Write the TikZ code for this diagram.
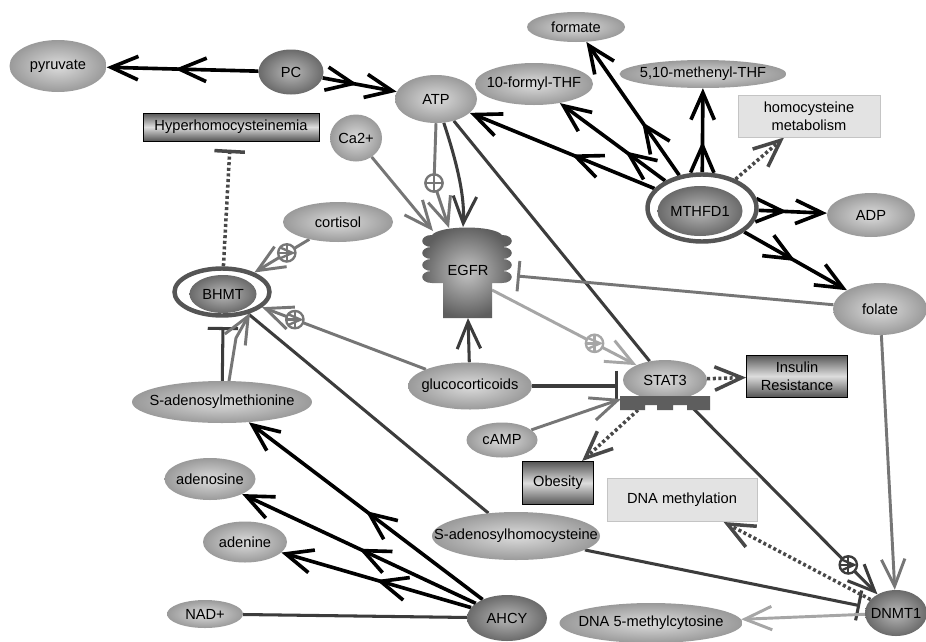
\documentclass[tikz,border=0pt]{standalone}
\usepackage{fontspec}
\setmainfont{Liberation Sans}
\usetikzlibrary{shapes.geometric,arrows.meta,decorations.markings}
\newcommand\zw[1]{\makebox[0pt]{#1}}
\pgfdeclarelayer{back}
\pgfdeclarelayer{bg}
\pgfsetlayers{back,bg,main}
\definecolor{dk}{HTML}{3C3C3C}
\definecolor{md}{HTML}{767676}
\definecolor{lt}{HTML}{A6A6A6}
\definecolor{dotc}{HTML}{484848}
\definecolor{ellin}{HTML}{DCDCDC}
\definecolor{ellout}{HTML}{9A9A9A}
\definecolor{dkin}{HTML}{B8B8B8}
\definecolor{dkout}{HTML}{6A6A6A}
\definecolor{ringc}{HTML}{555555}
\definecolor{boxdk}{HTML}{555555}
\definecolor{boxlt}{HTML}{DDDDDD}
\definecolor{ltboxf}{HTML}{E3E3E3}
\definecolor{ltboxb}{HTML}{C4C4C4}
\definecolor{egin}{HTML}{C4C4C4}
\definecolor{egout}{HTML}{5E5E5E}
\tikzset{Bx/.tip={Straight Barb[length=23pt,width=20pt]}}
\begin{document}
\begin{tikzpicture}[x=0.03cm,y=-0.03cm,font=\fontsize{12.5}{15}\selectfont,
 ell/.style 2 args={ellipse,inner sep=0pt,minimum width=#1*0.03cm,minimum height=#2*0.03cm,inner color=ellin,outer color=ellout},
 dkell/.style 2 args={ellipse,inner sep=0pt,minimum width=#1*0.03cm,minimum height=#2*0.03cm,inner color=dkin,outer color=dkout},
 ring/.style 2 args={ellipse,inner sep=0pt,minimum width=#1*0.03cm,minimum height=#2*0.03cm,draw=ringc,line width=3.8pt},
 dkbox/.style 2 args={rectangle,inner sep=0pt,align=center,minimum width=#1*0.03cm,minimum height=#2*0.03cm,draw=black,line width=0.8pt,top color=boxdk,bottom color=boxdk,middle color=boxlt},
 ltbox/.style 2 args={rectangle,inner sep=0pt,align=center,minimum width=#1*0.03cm,minimum height=#2*0.03cm,draw=ltboxb,line width=0.8pt,fill=ltboxf},
 blk/.style={draw=black,line width=3.1pt,-Bx},
 mid/.style={postaction={decorate,decoration={markings,mark=at position #1 with {\arrow{Bx}}}}},
 mid/.default=0.5,
 dkl/.style={draw=dk,line width=2.6pt},
 mdl/.style={draw=md,line width=2.5pt},
 ltl/.style={draw=lt,line width=2.5pt},
 dotl/.style={draw=dotc,line width=3pt,dash pattern=on 2.6pt off 2.2pt,-Bx},
 inh/.style={-{Bar[width=26pt]}},
 pluscirc/.style={circle,draw=#1,fill=white,line width=2pt,minimum size=0.52cm,inner sep=0pt,
   path picture={\draw[#1,line width=2pt] (path picture bounding box.north)--(path picture bounding box.south) (path picture bounding box.west)--(path picture bounding box.east);}}
]
\begin{pgfonlayer}{back}
\fill[white] (0,0) rectangle (926,641);
\end{pgfonlayer}
\useasboundingbox (0,0) rectangle (926,641);

% nodes
\node[ell={97}{52}] (pyr) at (58,66) {\zw{pyruvate}};
\node[dkell={65}{45}] (pc) at (291,72) {\zw{PC}};
\node[ell={82}{48}] (atp) at (436,99) {\zw{ATP}};
\node[ell={52}{47}] (ca) at (356,138) {\zw{Ca2+}};
\node[dkbox={176}{28}] (hyper) at (231,127) {Hyperhomocysteinemia};
\node[ell={98}{30}] (formate) at (576,27) {\zw{formate}};
\node[ell={118}{42}] (fthf) at (534,84) {\zw{10-formyl-THF}};
\node[ell={167}{28}] (mthf) at (703,74) {\zw{5,10-methenyl-THF}};
\node[ltbox={142}{42}] (hcm) at (809,116) {homocysteine\\metabolism};
\node[dkell={85}{50}] (mthfdin) at (700,211) {\zw{MTHFD1}};
\node[ring={109}{67}] (mthfd) at (702,208) {};
\node[ell={88}{44}] (adp) at (871,215) {\zw{ADP}};
\node[ell={94}{52}] (folate) at (880,309) {\zw{folate}};
\node[ell={110}{40}] (cortisol) at (338,222) {\zw{cortisol}};
\node[dkell={67}{38}] (bhmtin) at (223,294) {\zw{BHMT}};
\node[ring={95}{47}] (bhmt) at (222,292) {};
\shade[inner color=egin,outer color=egout] (443,318) -- (443,283) -- (432,283)
 .. controls (419,283) and (419,271) .. (432,271)
 .. controls (419,271) and (419,259) .. (432,259)
 .. controls (419,259) and (419,247) .. (432,247)
 .. controls (419,247) and (419,235) .. (432,235)
 .. controls (440,225) and (494,225) .. (502,235)
 .. controls (515,235) and (515,247) .. (502,247)
 .. controls (515,247) and (515,259) .. (502,259)
 .. controls (515,259) and (515,271) .. (502,271)
 .. controls (515,271) and (515,283) .. (502,283)
 -- (492,283) -- (492,318) -- cycle;
\node (egfr) at (468,270) {EGFR};
\node[ell={124}{47}] (gluco) at (470,386) {\zw{glucocorticoids}};
\node[ell={84}{40}] (stat3) at (665,380) {\zw{STAT3}};
\fill[egout] (620,396) -- (710,396) -- (710,410) -- (687,410) -- (687,405) -- (673,405) -- (673,410)
 -- (657,410) -- (657,405) -- (645,405) -- (645,410) -- (620,410) -- cycle;
\node[dkbox={101}{42}] (insulin) at (797,376) {Insulin\\Resistance};
\node[ell={71}{35}] (camp) at (502,440) {\zw{cAMP}};
\node[dkbox={71}{43}] (obesity) at (558,483) {Obesity};
\node[ltbox={150}{43}] (dnam) at (682,500) {DNA methylation};
\node[ell={180}{42}] (sam) at (222,402) {\zw{S-adenosylmethionine}};
\node[ell={91}{42}] (adenosine) at (210,479) {\zw{adenosine}};
\node[ell={84}{41}] (adenine) at (245,542) {\zw{adenine}};
\node[ell={76}{28}] (nad) at (205,614) {\zw{NAD+}};
\node[dkell={80}{46}] (ahcy) at (507,618) {\zw{AHCY}};
\node[ell={168}{48}] (sah) at (516,536) {\zw{S-adenosylhomocysteine}};
\node[ell={183}{40}] (dna5) at (651,623) {\zw{DNA 5-methylcytosine}};
\node[dkell={62}{46}] (dnmt) at (896,613) {\zw{DNMT1}};

% anchor coordinates
\coordinate (egfrTL) at (433,231);
\coordinate (egfrTM) at (449,228);
\coordinate (egfrTR) at (463,227);
\coordinate (egfrB) at (468,318);
\coordinate (egfrR) at (517,276);
\coordinate (egfrO) at (492,290);
\coordinate (atpplus) at (434,183);
\coordinate (stat3L) at (618,386);
\coordinate (stat3BL) at (621,399);
\coordinate (stat3B) at (638,410);
\coordinate (bhmtBar) at (223,327);
\coordinate (samtop) at (229,381);
\coordinate (samkink) at (236,338);
\coordinate (bhmtBR) at (250,313);

\begin{pgfonlayer}{bg}
% black reactions
\draw[blk,mid=0.55] (pc) -- (pyr);
\draw[blk,mid=0.47] (pc) -- (atp);
\draw[blk,mid=0.45] (mthfd) -- (atp);
\draw[blk,mid=0.38] (mthfd) -- (fthf);
\draw[blk,mid=0.4] (mthfd) -- (formate);
\draw[blk,mid=0.37] (mthfd) -- (mthf);
\draw[blk,mid=0.42] (mthfd) -- (adp);
\draw[blk,mid=0.5] (mthfd) -- (folate);
\draw[blk,mid=0.5] (ahcy) -- (sam);
\draw[blk,mid=0.5] (ahcy) -- (adenosine);
\draw[blk,mid=0.5] (ahcy) -- (adenine);
% dark gray
\draw[dkl,-Bx] (atp) .. controls (456,160) and (465,195) .. (egfrTR);
\draw[dkl] (atp) -- (stat3);
\draw[dkl,-Bx] (gluco) -- (egfrB);
\draw[dkl,inh] (gluco) -- (stat3L);
\draw[dkl,inh] (sam) -- (bhmtBar);
\draw[dkl] (bhmt) -- (sah);
\draw[dkl] (nad) -- (ahcy);
\draw[dkl,inh,shorten >=5pt] (sah) -- (dnmt);
\draw[dkl,-Bx] (stat3) -- node[pos=0.85,pluscirc=dk]{} (dnmt);
% medium gray
\draw[mdl,-Bx] (ca) -- (egfrTL);
\draw[mdl,-Bx] (atp.south) -- (atpplus) -- (egfrTM);
\node[pluscirc=md] (plusatp) at (atpplus) {};
\draw[mdl,-Bx] (cortisol) -- node[pos=0.41,pluscirc=md]{} (bhmt);
\draw[mdl,-Bx] (gluco) -- node[pos=0.8,pluscirc=md]{} (bhmt);
\draw[mdl,inh] (folate) -- (egfrR);
\draw[mdl,-Bx] (folate) -- (dnmt);
\draw[mdl,-Bx] (camp) -- (stat3BL);
\draw[mdl,-Bx] (samtop) -- (samkink) -- (bhmtBR);
% light gray
\draw[ltl,-Bx] (egfrO) -- node[pos=0.71,pluscirc=lt]{} (stat3);
\draw[ltl,-Bx] (dnmt) -- (dna5);
% dotted
\draw[dotl] (mthfd) -- (hcm);
\draw[dotl] (stat3) -- (insulin);
\draw[dotl] (stat3B) -- (obesity);
\draw[dotl] (dnmt) -- (dnam);
\draw[dotl,-{Bar[width=26pt]},shorten >=7pt] (bhmt) -- (hyper);
\end{pgfonlayer}
\end{tikzpicture}
\end{document}
